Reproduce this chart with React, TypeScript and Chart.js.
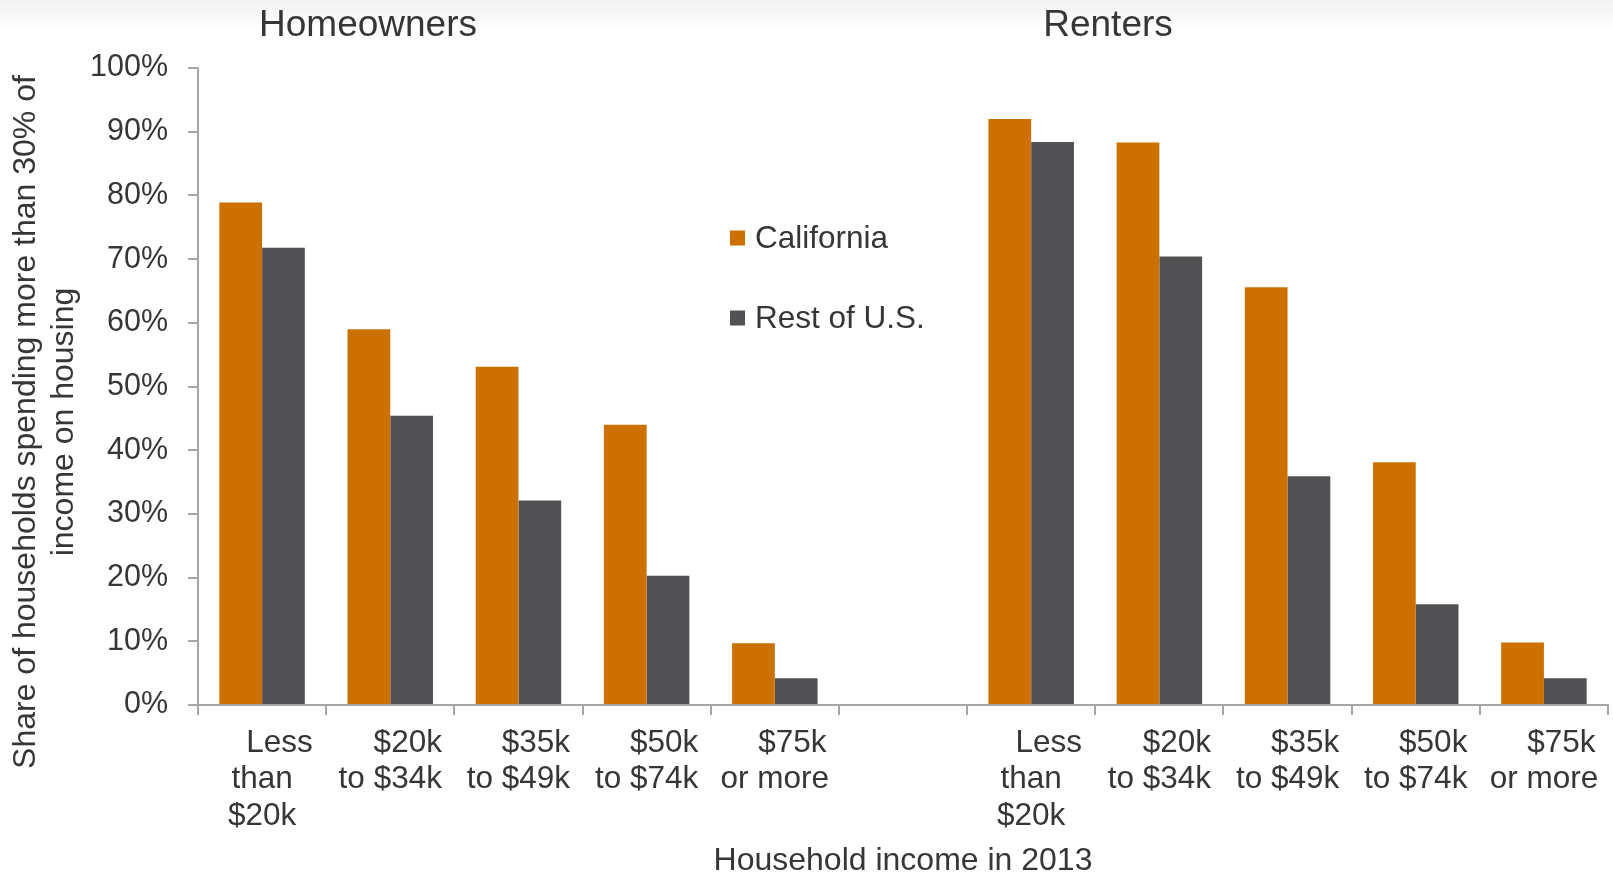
import React, { useEffect, useRef } from "react";
import { Chart, registerables } from "chart.js";

Chart.register(...registerables);

const categories: string[][] = [
  ["    Less", "than", "$20k"],
  ["    $20k", "to $34k"],
  ["    $35k", "to $49k"],
  ["    $50k", "to $74k"],
  ["    $75k", "or more"],
  [""],
  ["    Less", "than", "$20k"],
  ["    $20k", "to $34k"],
  ["    $35k", "to $49k"],
  ["    $50k", "to $74k"],
  ["    $75k", "or more"],
];

const california: (number | null)[] = [78.9, 59.0, 53.1, 44.0, 9.7, null, 92.0, 88.3, 65.6, 38.1, 9.8];
const restOfUS: (number | null)[] = [71.8, 45.4, 32.1, 20.3, 4.2, null, 88.4, 70.4, 35.9, 15.8, 4.2];

const seriesNames = ["California", "Rest of U.S."];
const groupTitles = ["Homeowners", "Renters"];
const yTitleLines = ["Share of households spending more than 30% of", "income on housing"];
const xTitle = "Household income in 2013";
const yTickValues = [0, 10, 20, 30, 40, 50, 60, 70, 80, 90, 100];

const ORANGE = "#CC7000";
const GRAY = "#525254";
const TEXT = "#363636";
const AXIS = "#a6a6a6";
const FONT = "'Liberation Sans', Arial, sans-serif";

const W = 1613;
const H = 876;

const decorPlugin = {
  id: "decor",
  afterDraw(chart: any) {
    const ctx = chart.ctx as CanvasRenderingContext2D;
    ctx.save();
    ctx.fillStyle = TEXT;

    // group titles
    ctx.font = `37px ${FONT}`;
    ctx.textAlign = "center";
    ctx.textBaseline = "middle";
    ctx.fillText(groupTitles[0], 368, 26);
    ctx.fillText(groupTitles[1], 1108, 26);

    // legend
    const ds = chart.data.datasets;
    const legendY = [238, 318];
    ctx.font = `31.5px ${FONT}`;
    ctx.textAlign = "left";
    ctx.textBaseline = "middle";
    for (let i = 0; i < ds.length; i++) {
      ctx.fillStyle = ds[i].backgroundColor;
      ctx.fillRect(730, legendY[i] - 7.5, 15, 15);
      ctx.fillStyle = TEXT;
      ctx.fillText(ds[i].label, 755, legendY[i] + 1);
    }

    // y title
    ctx.font = `32px ${FONT}`;
    ctx.textAlign = "center";
    ctx.textBaseline = "middle";
    const yMid = 422;
    const xs = [26, 64];
    yTitleLines.forEach((line, i) => {
      ctx.save();
      ctx.translate(xs[i], yMid);
      ctx.rotate(-Math.PI / 2);
      ctx.fillText(line, 0, 0);
      ctx.restore();
    });

    // x title
    const ca = chart.chartArea;
    ctx.textBaseline = "alphabetic";
    ctx.fillText(xTitle, (ca.left + ca.right) / 2, 870);

    ctx.restore();
  },
};

export default function App() {
  const canvasRef = useRef<HTMLCanvasElement | null>(null);

  useEffect(() => {
    const canvas = canvasRef.current;
    if (!canvas) return;
    const chart = new Chart(canvas, {
      type: "bar",
      data: {
        labels: categories,
        datasets: [
          {
            label: seriesNames[0],
            data: california,
            backgroundColor: ORANGE,
            borderWidth: 0,
            categoryPercentage: 0.667,
            barPercentage: 1.0,
          },
          {
            label: seriesNames[1],
            data: restOfUS,
            backgroundColor: GRAY,
            borderWidth: 0,
            categoryPercentage: 0.667,
            barPercentage: 1.0,
          },
        ],
      },
      options: {
        responsive: false,
        animation: false,
        devicePixelRatio: 1,
        layout: { padding: { top: 68, right: 5, left: 0, bottom: 0 } },
        plugins: {
          legend: { display: false },
          tooltip: { enabled: false },
          title: { display: false },
        },
        scales: {
          x: {
            type: "category",
            offset: true,
            grid: {
              offset: true,
              drawOnChartArea: false,
              drawTicks: true,
              tickLength: 10,
              color: AXIS,
              lineWidth: 2,
            },
            border: { display: true, color: AXIS, width: 2 },
            ticks: {
              color: TEXT,
              font: { family: FONT, size: 31.5, lineHeight: 1.16 },
              padding: 10,
              maxRotation: 0,
              minRotation: 0,
              autoSkip: false,
            },
            afterFit: (s: any) => {
              s.height = H - 705;
            },
          },
          y: {
            min: 0,
            max: 100,
            afterBuildTicks: (s: any) => {
              s.ticks = yTickValues.map((v) => ({ value: v }));
            },
            grid: {
              drawOnChartArea: false,
              drawTicks: true,
              tickLength: 10,
              color: AXIS,
              lineWidth: 2,
            },
            border: { display: true, color: AXIS, width: 2 },
            ticks: {
              color: TEXT,
              font: { family: FONT, size: 30.5 },
              padding: 20,
              callback: (v: any) => `${v}%`,
            },
            afterFit: (s: any) => {
              s.width = 198;
            },
          },
        },
      },
      plugins: [decorPlugin],
    });
    return () => chart.destroy();
  }, []);

  return (
    <div
      style={{
        position: "absolute",
        left: 0,
        top: 0,
        width: W,
        height: H,
        overflow: "hidden",
        background: "linear-gradient(to bottom, #f2f2f2 0px, #fafafa 20px, #ffffff 34px)",
      }}
    >
      <canvas ref={canvasRef} width={W} height={H} style={{ display: "block", width: W, height: H }} />
    </div>
  );
}
